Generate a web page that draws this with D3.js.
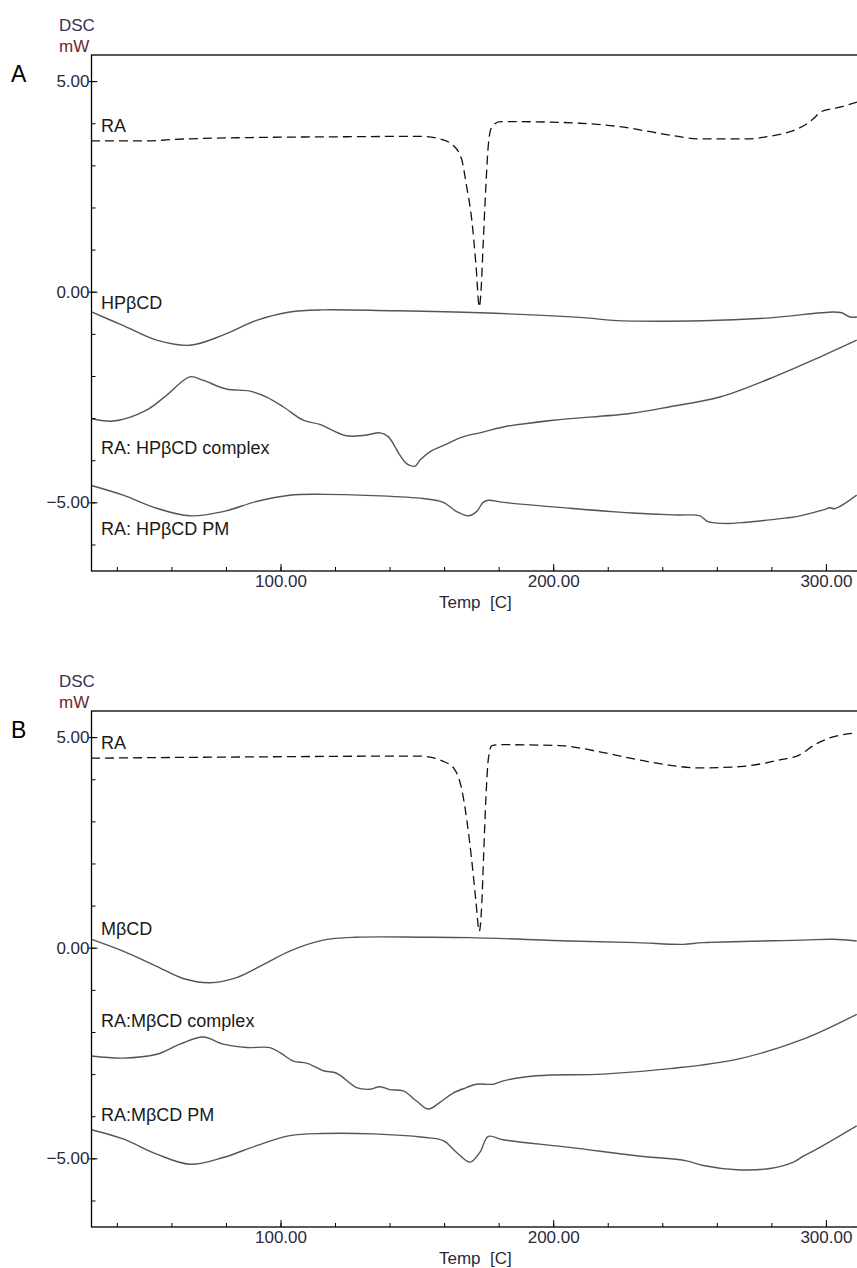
<!DOCTYPE html>
<html>
<head>
<meta charset="utf-8">
<script src="https://cdn.jsdelivr.net/npm/d3@7"></script>
<style>
  body { margin: 0; background: #fff; }
  text { font-family: "Liberation Sans", Arial, sans-serif; }
</style>
</head>
<body>
<div id="chart"></div>
<script>
// DSC thermograms, [temp C, mW]
var raA = [[30.5,3.58],[52.1,3.58],[59.4,3.61],[88.8,3.66],[125.4,3.68],[151.1,3.69],[158.4,3.63],[163.2,3.48],
  [166.4,3.15],[168.2,2.52],[170.1,1.73],[171.7,0.62],[172.9,-0.36],[173.5,-0.01],[174.3,1.10],[175.2,2.36],
  [176.2,3.47],[177.4,3.90],[180.5,4.04],[202.5,4.02],[209.8,4.00],[224.4,3.92],[239.1,3.76],[253.8,3.63],
  [272.1,3.63],[278.3,3.68],[289.3,3.86],[292.9,3.98],[296,4.14],[297.8,4.26],[305.1,4.38],[311.4,4.50]];
var hpA = [[30.7,-0.48],[42.2,-0.80],[54.6,-1.15],[66.8,-1.27],[78.9,-1.03],[91.2,-0.68],[103.4,-0.48],[115.5,-0.43],
  [140.1,-0.45],[173.1,-0.50],[212.2,-0.62],[221.9,-0.68],[254.9,-0.69],[279.5,-0.62],[302.6,-0.48],[305.8,-0.50],
  [308.8,-0.60],[311.4,-0.60]];
var cxA = [[30.7,-3.01],[38.7,-3.07],[50.9,-2.81],[58.2,-2.46],[66.8,-2.02],[71.5,-2.10],[80.2,-2.31],[88.8,-2.36],
  [94.9,-2.50],[101.0,-2.73],[108.3,-3.05],[114.4,-3.15],[124.2,-3.42],[131.6,-3.40],[136.5,-3.35],[139.5,-3.44],
  [143.8,-3.88],[146.2,-4.08],[149.3,-4.14],[151.1,-4.00],[154.8,-3.80],[160.9,-3.62],[165.8,-3.47],[169.5,-3.40],
  [173.1,-3.35],[181.7,-3.21],[200,-3.05],[228.1,-2.89],[242.8,-2.73],[261.1,-2.50],[279.5,-2.06],[297.8,-1.55],
  [311.3,-1.15]];
var pmA = [[30.7,-4.60],[42.3,-4.83],[54.6,-5.14],[66.8,-5.32],[79.0,-5.22],[91.2,-4.98],[103.4,-4.83],[115.7,-4.81],
  [134.0,-4.84],[152.3,-4.91],[159.7,-5.00],[164.6,-5.22],[168.8,-5.32],[171.9,-5.22],[174.3,-5.00],[176.2,-4.95],
  [181.7,-5.00],[206.1,-5.14],[230.6,-5.26],[245.3,-5.30],[253.8,-5.32],[256.8,-5.46],[262.3,-5.50],[269.7,-5.48],
  [286.8,-5.36],[289.3,-5.34],[299.0,-5.18],[301.5,-5.13],[303.3,-5.15],[311.3,-4.83]];

var raB = [[30.5,4.50],[88.8,4.53],[151.1,4.55],[160.3,4.41],[163.9,4.23],[166.5,3.75],[168.3,3.04],[170.1,2.09],
  [171.6,1.15],[172.9,0.39],[173.8,1.03],[174.5,2.21],[175.3,3.52],[176.2,4.47],[177.5,4.80],[180.4,4.82],
  [202.4,4.80],[217.1,4.65],[235.4,4.41],[253.8,4.27],[268.5,4.30],[283.1,4.46],[290.4,4.58],[295.9,4.82],
  [301.4,4.98],[311.4,5.10]];
var mbB = [[30.7,0.20],[42.3,-0.08],[54.6,-0.44],[64.3,-0.73],[74.1,-0.83],[83.9,-0.71],[93.7,-0.40],[103.4,-0.08],
  [115.7,0.18],[127.9,0.25],[152.3,0.25],[169.5,0.24],[206.1,0.16],[230.6,0.12],[247.7,0.08],[255.0,0.12],
  [291.7,0.18],[302.7,0.20],[311.3,0.16]];
var cxB = [[30.7,-2.57],[42.3,-2.62],[54.6,-2.53],[63.1,-2.29],[71.7,-2.12],[79.0,-2.29],[87.6,-2.37],[96.1,-2.37],
  [99.8,-2.49],[104.7,-2.69],[109.6,-2.74],[115.7,-2.92],[120.6,-2.98],[127.9,-3.32],[132.8,-3.36],[136.5,-3.30],
  [140.1,-3.37],[145.0,-3.40],[149.9,-3.64],[154.2,-3.83],[158.5,-3.67],[163.3,-3.45],[168.2,-3.32],[171.9,-3.24],
  [178.0,-3.24],[181.7,-3.16],[193.9,-3.04],[218.3,-3.00],[242.8,-2.87],[267.3,-2.65],[291.7,-2.17],[311.3,-1.58]];
var pmB = [[30.7,-4.32],[42.3,-4.54],[54.6,-4.90],[66.8,-5.14],[79.0,-4.98],[91.2,-4.70],[103.4,-4.46],[115.7,-4.41],
  [134.0,-4.42],[152.3,-4.50],[159.7,-4.58],[164.6,-4.86],[169.5,-5.09],[173.1,-4.86],[176.2,-4.48],[181.7,-4.56],
  [206.1,-4.74],[230.6,-4.94],[248.9,-5.06],[255.0,-5.17],[267.3,-5.27],[279.5,-5.24],[288.1,-5.09],[291.7,-4.95],
  [297.8,-4.74],[311.3,-4.23]];

var xTicks = d3.range(40, 301, 20);
var xMajor = [100, 200, 300];
var yTicks = d3.range(-6, 6, 1);
var yMajor = [5, 0, -5];

var panels = [
  {letter: "A", top: 55, series: [
    {data: raA, label: "RA", dashed: true, ly: 132},
    {data: hpA, label: "HPβCD", ly: 309},
    {data: cxA, label: "RA: HPβCD complex", ly: 454},
    {data: pmA, label: "RA: HPβCD PM", ly: 535}]},
  {letter: "B", top: 711, series: [
    {data: raB, label: "RA", dashed: true, ly: 749},
    {data: mbB, label: "MβCD", ly: 935},
    {data: cxB, label: "RA:MβCD complex", ly: 1027},
    {data: pmB, label: "RA:MβCD PM", ly: 1121}]}
];

var W = 857, H = 1268;
var left = 91.5, plotH = 516;

var svg = d3.select("#chart").append("svg")
  .attr("width", W).attr("height", H);

var x = d3.scaleLinear().domain([30.7, 311.4]).range([left, 857]);

panels.forEach(function(p) {
  var y = d3.scaleLinear().domain([-6.63, 5.62]).range([p.top + plotH, p.top]);
  var g = svg.append("g");

  p.series.forEach(function(s) {
    // dashed RA has a sharp melting peak, keep it monotone; the rest smooth
    var line = d3.line()
      .x(function(d) { return x(d[0]); })
      .y(function(d) { return y(d[1]); })
      .curve(s.dashed ? d3.curveMonotoneX : d3.curveCatmullRom.alpha(0.5));

    g.append("path")
      .datum(s.data)
      .attr("d", line)
      .attr("fill", "none")
      .attr("stroke", s.dashed ? "#111" : "#555")
      .attr("stroke-width", s.dashed ? 1.3 : 1.4)
      .attr("stroke-dasharray", s.dashed ? "9,5" : null);

    g.append("text")
      .attr("x", 101)
      .attr("y", s.ly)
      .attr("font-size", 18)
      .attr("fill", "#1a1a1a")
      .text(s.label);
  });

  // frame
  g.append("rect")
    .attr("x", left).attr("y", p.top)
    .attr("width", 900).attr("height", plotH)
    .attr("fill", "none").attr("stroke", "#000").attr("stroke-width", 1.3);

  // y axis, ticks pointing inward
  g.append("g")
    .attr("transform", "translate(" + left + ",0)")
    .call(d3.axisLeft(y).tickValues(yTicks).tickSizeInner(-4).tickSizeOuter(0).tickFormat(""))
    .call(function(a) { a.select(".domain").remove(); });
  g.append("g")
    .attr("transform", "translate(" + left + ",0)")
    .call(d3.axisLeft(y).tickValues(yMajor).tickSizeInner(-6).tickSizeOuter(0).tickPadding(2)
      .tickFormat(d3.format(".2f")))
    .call(function(a) {
      a.select(".domain").remove();
      a.selectAll("line").attr("x1", -3);
      a.selectAll("text").attr("font-size", 17).attr("fill", "#2a2a3a")
        .attr("font-family", "Liberation Sans, Arial, sans-serif");
    });

  // x axis
  g.append("g")
    .attr("transform", "translate(0," + (p.top + plotH) + ")")
    .call(d3.axisBottom(x).tickValues(xTicks).tickSizeInner(-4).tickSizeOuter(0).tickFormat(""))
    .call(function(a) { a.select(".domain").remove(); });
  g.append("g")
    .attr("transform", "translate(0," + (p.top + plotH) + ")")
    .call(d3.axisBottom(x).tickValues(xMajor).tickSizeInner(-7).tickSizeOuter(0).tickPadding(4)
      .tickFormat(d3.format(".2f")))
    .call(function(a) {
      a.select(".domain").remove();
      a.selectAll("text").attr("font-size", 17).attr("fill", "#2a2a3a")
        .attr("font-family", "Liberation Sans, Arial, sans-serif");
    });

  // axis titles
  g.append("text")
    .attr("x", 439).attr("y", p.top + plotH + 37)
    .attr("font-size", 17).attr("fill", "#2a2a3a")
    .attr("xml:space", "preserve")
    .text("Temp  [C]");
  g.append("text")
    .attr("x", 59).attr("y", p.top - 24)
    .attr("font-size", 17).attr("fill", "#3a3050")
    .text("DSC");
  g.append("text")
    .attr("x", 59).attr("y", p.top - 3)
    .attr("font-size", 17).attr("fill", "#6a2a2a")
    .text("mW");

  // panel letter
  g.append("text")
    .attr("x", 11).attr("y", p.top + 27)
    .attr("font-size", 23).attr("fill", "#000")
    .text(p.letter);
});
</script>
</body>
</html>
